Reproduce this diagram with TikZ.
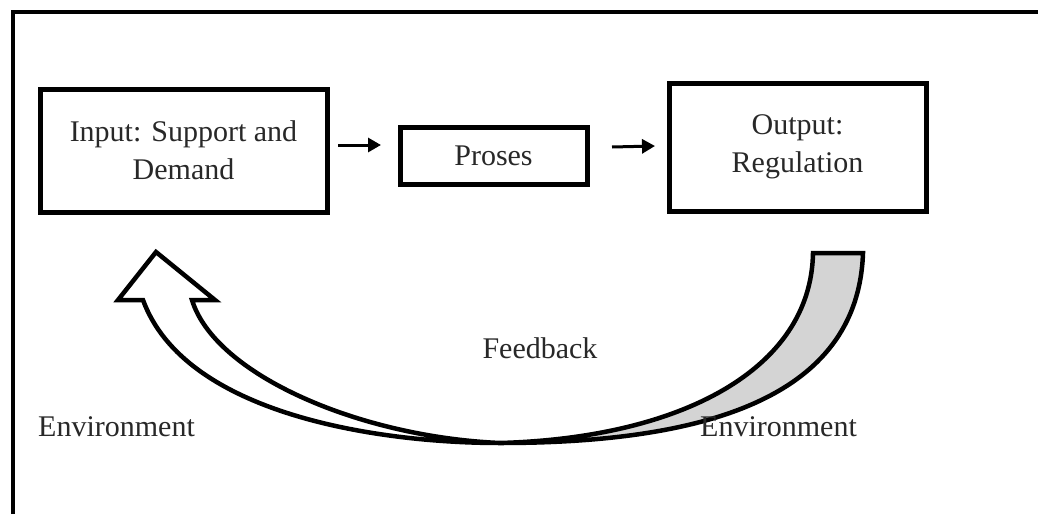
\documentclass[tikz,border=0pt]{standalone}
\usepackage{fontspec}
\setmainfont{Liberation Serif}
\usetikzlibrary{arrows.meta}
\definecolor{bandgray}{RGB}{212,212,212}
\definecolor{txt}{RGB}{40,40,40}
\tikzset{
  frameline/.style={line width=4.5pt},
  box/.style={draw, line width=5pt, inner sep=0pt, font=\fontsize{30}{38}\selectfont, text=txt, align=center},
  smallarrow/.style={line width=3pt, -{Triangle[length=13pt,width=14pt]}},
  lbl/.style={font=\fontsize{30}{38}\selectfont, text=txt, inner sep=0pt},
  band/.style={draw, line width=4.5pt, line join=miter},
}
\begin{document}
\begin{tikzpicture}[x=1pt,y=-1pt]
\useasboundingbox (0,0) rectangle (1038,514);
\fill[white] (0,0) rectangle (1038,514);
% frame (open at right and bottom)
\draw[frameline] (13,514) -- (13,12) -- (1038,12);

% boxes
\node[box, minimum width=287pt, minimum height=123pt] (in) at (183.5,150.5) {Input: Support and\\Demand};
\node[box, minimum width=187pt, minimum height=57pt] (pr) at (493.5,155.5) {Proses};
\node[box, minimum width=257pt, minimum height=128pt] (out) at (797.5,147) {Output:\\Regulation};

% small arrows
\coordinate (a1s) at (338,145);
\coordinate (a1e) at (381,145);
\coordinate (a2s) at (612,147);
\coordinate (a2e) at (655,146);
\draw[smallarrow] (a1s) -- (a1e);
\draw[smallarrow] (a2s) -- (a2e);

% curved feedback arrow
\coordinate (bot) at (500,443);
\coordinate (gtl) at (813,253);
\coordinate (gtr) at (863,253);
\coordinate (sl) at (143,300);
\coordinate (hl) at (118,300);
\coordinate (tip) at (156,252);
\coordinate (hr) at (215,300);
\coordinate (sr) at (192,300);
% gray part
\draw[band, fill=bandgray] (bot) .. controls (700,443) and (858,400) .. (gtr)
  -- (gtl) .. controls (811,370) and (680,438) .. (bot) -- cycle;
% white part with head
\draw[band, fill=white] (bot) .. controls (380,443) and (185,415) .. (sl)
  -- (hl) -- (tip) -- (hr) -- (sr)
  .. controls (215,375) and (360,437) .. (bot) -- cycle;

% labels
\node[lbl, anchor=base] (fb) at (540,358) {Feedback};
\node[lbl, anchor=base west] (envl) at (38,436) {Environment};
\node[lbl, anchor=base west] (envr) at (700,436) {Environment};
\end{tikzpicture}
\end{document}
